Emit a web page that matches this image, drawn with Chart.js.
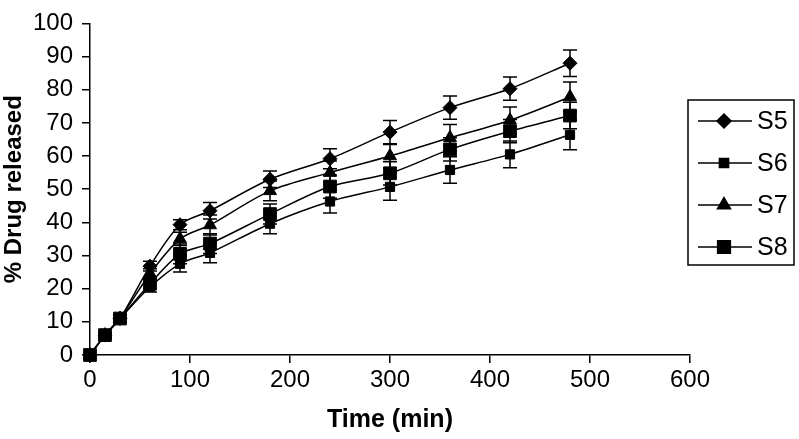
<!DOCTYPE html>
<html>
<head>
<meta charset="utf-8">
<script src="https://cdn.jsdelivr.net/npm/chart.js@4/dist/chart.umd.min.js"></script>
<style>
  html, body { margin: 0; padding: 0; background: #ffffff; }
  #wrap { width: 799px; height: 439px; }
</style>
</head>
<body>
<div id="wrap"><canvas id="c" width="799" height="439"></canvas></div>
<script>
// ---- data ----
const timeMin = [0, 15, 30, 60, 90, 120, 180, 240, 300, 360, 420, 480];
const seriesNames = ['S5', 'S6', 'S7', 'S8'];
const s5 = [0, 6, 11, 26.8, 39.3, 43.5, 53, 59.2, 67.2, 74.6, 80.3, 88];
const s6 = [0, 6, 11, 20.5, 27.5, 30.8, 39.6, 46.3, 50.7, 55.8, 60.5, 66.4];
const s7 = [0, 6, 11, 24.5, 35, 39.2, 49.5, 55, 60, 65.5, 70.8, 77.8];
const s8 = [0, 6, 11, 21.5, 30.5, 33.6, 42.5, 50.8, 54.8, 62, 67.5, 72.2];
const s5Err = [0, 0.5, 1, 1.5, 1.5, 2.5, 2.5, 3, 3.5, 3.5, 3.5, 4];
const s6Err = [0, 0.5, 1, 1.5, 2.5, 3, 3, 3.5, 4, 4, 4, 4.5];
const s7Err = [0, 0.5, 1, 1.5, 2, 3, 3, 3.5, 3.5, 4, 4, 4.5];
const s8Err = [0, 0.5, 1, 1.5, 3, 3, 3, 3.5, 3.5, 3.5, 3.5, 4];
const xTicks = [0, 100, 200, 300, 400, 500, 600];
const yTicks = [0, 10, 20, 30, 40, 50, 60, 70, 80, 90, 100];

const values = [s5, s6, s7, s8];
const errors = [s5Err, s6Err, s7Err, s8Err];
const markers = [
  { style: 'rectRot', r: 7 },
  { style: 'rect', r: 6.5 },
  { style: 'triangle', r: 7.5 },
  { style: 'rect', r: 9 }
];

const FONT = "'Liberation Sans', Arial, sans-serif";

const datasets = seriesNames.map((name, i) => ({
  label: name,
  data: timeMin.map((t, j) => ({ x: t, y: values[i][j] })),
  errs: errors[i],
  borderColor: '#000',
  backgroundColor: '#000',
  borderWidth: 1.5,
  tension: 0.3,
  pointStyle: markers[i].style,
  pointRadius: markers[i].r,
  pointHoverRadius: markers[i].r,
  pointBackgroundColor: '#000',
  pointBorderColor: '#000',
  pointBorderWidth: 1,
  clip: false
}));

const errorBars = {
  id: 'errorBars',
  afterDatasetsDraw(chart) {
    const ctx = chart.ctx;
    const xs = chart.scales.x, ys = chart.scales.y;
    ctx.save();
    ctx.strokeStyle = '#000';
    ctx.lineWidth = 1.5;
    chart.data.datasets.forEach(ds => {
      ds.data.forEach((p, j) => {
        const e = ds.errs[j];
        if (!e) return;
        const px = xs.getPixelForValue(p.x);
        const top = ys.getPixelForValue(p.y + e);
        const bot = ys.getPixelForValue(p.y - e);
        ctx.beginPath();
        ctx.moveTo(px, top); ctx.lineTo(px, bot);
        ctx.moveTo(px - 7, top); ctx.lineTo(px + 7, top);
        ctx.moveTo(px - 7, bot); ctx.lineTo(px + 7, bot);
        ctx.stroke();
      });
    });
    ctx.restore();
  }
};

const boxLegend = {
  id: 'boxLegend',
  afterDraw(chart) {
    const ctx = chart.ctx;
    const bx = 688, by = 100, bw = 106, bh = 165;
    ctx.save();
    ctx.fillStyle = '#fff';
    ctx.fillRect(bx, by, bw, bh);
    ctx.strokeStyle = '#000';
    ctx.lineWidth = 1.5;
    ctx.strokeRect(bx, by, bw, bh);
    chart.data.datasets.forEach((ds, i) => {
      const y = 121 + i * 42;
      ctx.beginPath();
      ctx.lineWidth = 1.5;
      ctx.moveTo(698, y); ctx.lineTo(752, y);
      ctx.stroke();
      ctx.fillStyle = '#000';
      Chart.helpers.drawPoint(ctx, { pointStyle: ds.pointStyle, radius: ds.pointRadius, borderWidth: 1 }, 724, y);
      ctx.font = '25px ' + FONT;
      ctx.textBaseline = 'middle';
      ctx.textAlign = 'left';
      ctx.fillText(ds.label, 757, y + 1);
    });
    ctx.restore();
  }
};

new Chart(document.getElementById('c'), {
  type: 'line',
  data: { datasets },
  plugins: [errorBars, boxLegend],
  options: {
    responsive: false,
    animation: false,
    devicePixelRatio: 1,
    layout: { padding: { top: 13, right: 109, left: 0, bottom: 0 } },
    plugins: { legend: { display: false }, tooltip: { enabled: false } },
    scales: {
      x: {
        type: 'linear',
        min: 0, max: 600,
        afterBuildTicks: s => { s.ticks = xTicks.map(v => ({ value: v })); },
        afterFit: s => { s.height = 84; },
        grid: { display: true, drawOnChartArea: false, drawTicks: true, tickLength: 8, color: '#000', lineWidth: 1.5 },
        border: { display: true, color: '#000', width: 1.5 },
        ticks: { color: '#000', font: { family: FONT, size: 24 }, padding: 3, maxRotation: 0 },
        title: { display: true, text: 'Time (min)', color: '#000', font: { family: FONT, size: 25, weight: 'bold' }, padding: { top: 0, bottom: 4 } }
      },
      y: {
        type: 'linear',
        min: 0, max: 100,
        afterBuildTicks: s => { s.ticks = yTicks.map(v => ({ value: v })); },
        afterFit: s => { s.width = 90; },
        grid: { display: true, drawOnChartArea: false, drawTicks: true, tickLength: 8, color: '#000', lineWidth: 1.5 },
        border: { display: true, color: '#000', width: 1.5 },
        ticks: { color: '#000', font: { family: FONT, size: 24 }, padding: 9 },
        title: { display: true, text: '% Drug released', color: '#000', font: { family: FONT, size: 24, weight: 'bold' }, padding: { top: 0, bottom: 0 } }
      }
    }
  }
});
</script>
</body>
</html>
